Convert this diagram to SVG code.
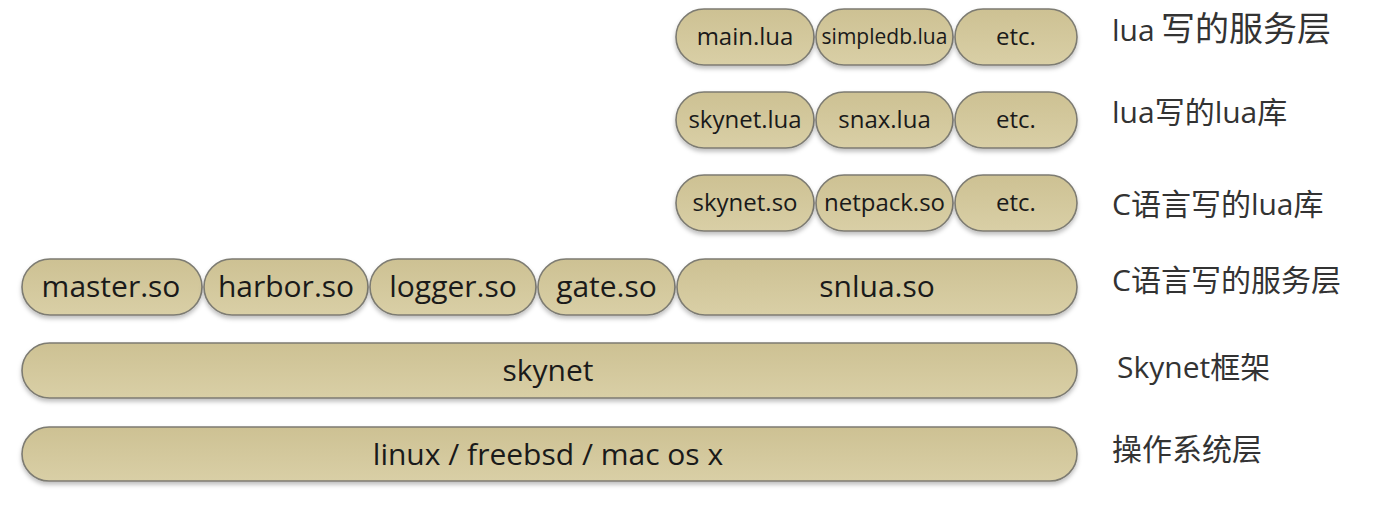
<svg xmlns="http://www.w3.org/2000/svg" width="1377" height="510" viewBox="0 0 1377 510">
<defs>
<linearGradient id="g" x1="0" y1="0" x2="0" y2="1">
<stop offset="0" stop-color="#cdc193"/>
<stop offset="1" stop-color="#d9cfa6"/>
</linearGradient>
<filter id="sh" x="-5%" y="-20%" width="110%" height="150%">
<feDropShadow dx="0" dy="3" stdDeviation="2" flood-color="#000" flood-opacity="0.25"/>
</filter>
</defs>
<style>
.b{fill:url(#g);stroke:#7d7b72;stroke-width:1.6;filter:url(#sh)}
.t{font-family:"Open Sans","Noto Sans",sans-serif;fill:#1a1a1a;text-anchor:middle}
.s{font-size:24px}
.m{font-size:30px}
.l{font-family:"Open Sans","Noto Sans CJK SC",sans-serif;font-size:30px;fill:#333}
</style>
<g id="row1">
<g id="main_lua"><rect class="b" x="676" y="9" width="138" height="56" rx="28"/><text class="t s" x="745" y="45">main.lua</text></g>
<g id="simpledb_lua"><rect class="b" x="816" y="9" width="137" height="56" rx="28"/><text class="t" x="884.5" y="44" font-size="21">simpledb.lua</text></g>
<g id="etc1"><rect class="b" x="955" y="9" width="122" height="56" rx="28"/><text class="t s" x="1016" y="45">etc.</text></g>
</g>
<g id="row2">
<g id="skynet_lua"><rect class="b" x="676" y="92" width="138" height="56" rx="28"/><text class="t s" x="745" y="128">skynet.lua</text></g>
<g id="snax_lua"><rect class="b" x="816" y="92" width="137" height="56" rx="28"/><text class="t s" x="884.5" y="128">snax.lua</text></g>
<g id="etc2"><rect class="b" x="955" y="92" width="122" height="56" rx="28"/><text class="t s" x="1016" y="128">etc.</text></g>
</g>
<g id="row3">
<g id="skynet_so"><rect class="b" x="676" y="175" width="138" height="56" rx="28"/><text class="t s" x="745" y="211">skynet.so</text></g>
<g id="netpack_so"><rect class="b" x="816" y="175" width="137" height="56" rx="28"/><text class="t s" x="884.5" y="211">netpack.so</text></g>
<g id="etc3"><rect class="b" x="955" y="175" width="122" height="56" rx="28"/><text class="t s" x="1016" y="211">etc.</text></g>
</g>
<g id="row4">
<g id="master_so"><rect class="b" x="22" y="259" width="180" height="56" rx="28"/><text class="t m" x="111" y="297">master.so</text></g>
<g id="harbor_so"><rect class="b" x="204" y="259" width="164" height="56" rx="28"/><text class="t m" x="286" y="297">harbor.so</text></g>
<g id="logger_so"><rect class="b" x="370" y="259" width="166" height="56" rx="28"/><text class="t m" x="453" y="297">logger.so</text></g>
<g id="gate_so"><rect class="b" x="538" y="259" width="137" height="56" rx="28"/><text class="t m" x="606.5" y="297">gate.so</text></g>
<g id="snlua_so"><rect class="b" x="677" y="259" width="400" height="56" rx="28"/><text class="t m" x="877" y="297">snlua.so</text></g>
</g>
<g id="skynet"><rect class="b" x="22" y="343" width="1055" height="55" rx="27.5"/><text class="t m" x="548" y="381">skynet</text></g>
<g id="os"><rect class="b" x="22" y="427" width="1055" height="54" rx="27"/><text class="t m" x="548" y="465">linux / freebsd / mac os x</text></g>
<g id="labels">
<text class="l" x="1112" y="41">lua <tspan x="1161" font-size="34">写的服务层</tspan></text>
<text class="l" x="1112" y="123">lua写的lua库</text>
<text class="l" x="1112" y="215">C语言写的lua库</text>
<text class="l" x="1112" y="291">C语言写的服务层</text>
<text class="l" x="1117" y="378">Skynet框架</text>
<text class="l" x="1112" y="460">操作系统层</text>
</g>
</svg>
